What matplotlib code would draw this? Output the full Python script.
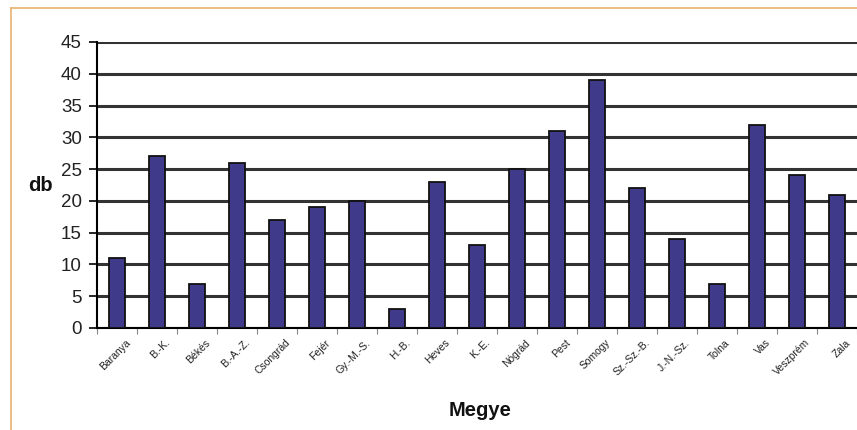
import matplotlib
matplotlib.use("Agg")
import matplotlib.pyplot as plt
import numpy as np
from matplotlib.lines import Line2D

plt.rcParams['font.family'] = ['Liberation Sans', 'DejaVu Sans']

# county abbreviations and counts
counties = ['Baranya', 'B.-K.', 'Békés', 'B.-A.-Z.', 'Csongrád', 'Fejér',
            'Gy.-M.-S.', 'H.-B.', 'Heves', 'K.-E.', 'Nógrád', 'Pest',
            'Somogy', 'Sz.-Sz.-B.', 'J.-N.-Sz.', 'Tolna', 'Vas',
            'Veszprém', 'Zala']
counts = [11, 27, 7, 26, 17, 19, 20, 3, 23, 13, 25, 31, 39, 22, 14, 7, 32, 24, 21]
y_ticks = [0, 5, 10, 15, 20, 25, 30, 35, 40, 45]

fig = plt.figure(figsize=(8.57, 4.30), dpi=100)
ax = fig.add_axes([97 / 857, 102 / 430, 760 / 857, 286 / 430])

x = np.arange(len(counties))
ax.bar(x, counts, width=0.4, color='#3f3a8a', edgecolor='#111111',
       linewidth=1.3, zorder=3)

ax.set_ylim(0, 45)
ax.set_xlim(-0.5, len(counties) - 0.5)
ax.set_yticks(y_ticks)
ax.yaxis.grid(True, color='#333333', linewidth=2.2, zorder=0)
ax.tick_params(axis='y', labelsize=13.5, length=6, width=1.2, pad=5,
               labelcolor='#222222')

# category boundaries carry the small x ticks
ax.set_xticks(np.arange(len(counties) + 1) - 0.5)
ax.set_xticklabels([])
ax.tick_params(axis='x', length=4, width=0.8, color='#888888')
for i, name in enumerate(counties):
    ax.text(i + 0.2, -1.5, name, rotation=45, ha='right', va='top',
            fontsize=7.5, rotation_mode='anchor', color='#222222')

for side in ['top', 'right']:
    ax.spines[side].set_visible(False)
ax.spines['left'].set_linewidth(1.5)
ax.spines['bottom'].set_linewidth(1.5)

fig.text(40 / 857, 1 - 186 / 430, 'db', fontsize=14.5, fontweight='bold',
         ha='center', va='center', color='#111111')
fig.text(480 / 857, 1 - 411 / 430, 'Megye', fontsize=14.5, fontweight='bold',
         ha='center', va='center', color='#111111')

# orange frame along top and left
fig.add_artist(Line2D([11 / 857, 1], [1 - 8 / 430, 1 - 8 / 430],
                      color='#e8b070', linewidth=1.2))
fig.add_artist(Line2D([11 / 857, 11 / 857], [0, 1 - 8 / 430],
                      color='#e8b070', linewidth=1.2))

fig.savefig('out.png', dpi=100)
